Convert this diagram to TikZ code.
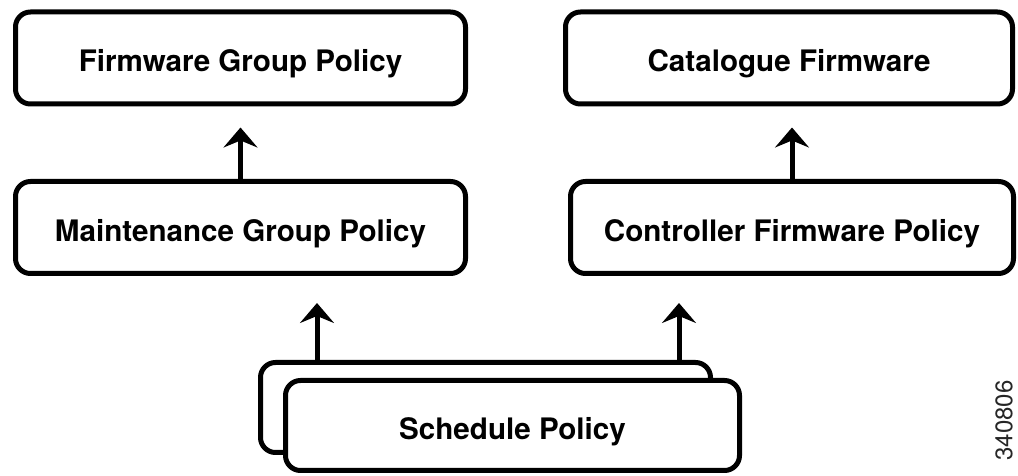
\documentclass[tikz,border=0pt]{standalone}
\usepackage{fontspec}
\setmainfont{TeX Gyre Heros}
\usepackage{tikz}
\usetikzlibrary{arrows.meta}
\tikzset{
  pnode/.style = {align=center, inner sep=0pt, text centered, text height=14pt, text depth=0pt, font=\fontsize{14.8}{17}\selectfont\bfseries},
  pbox/.style = {pnode, rectangle, rounded corners=7.5pt, draw=black, line width=2.5pt, fill=white, minimum width=225pt, minimum height=46pt},
  parrow/.style = {line width=2.5pt, -{Stealth[length=10pt, width=17pt, inset=3.5pt]}},
  pid/.style = {inner sep=0pt, rotate=90, font=\fontsize{12}{14}\selectfont, text=black!85},
}
\begin{document}
\begin{tikzpicture}[x=0.5pt, y=0.5pt]
\useasboundingbox (0,0) rectangle (1018,476);
%TODO: the figure number is cut off at the edge in the original, kept inside here
\node [pbox] (fgp) at (240.5,418) {Firmware Group Policy};
\node [pbox] (mgp) at (240.5,248.5) {Maintenance Group Policy};
\node [pbox, minimum width=223.5pt] (cat) at (789,418) {Catalogue Firmware};
\node [pbox, minimum width=221.5pt] (cfp) at (792,248.5) {Controller Firmware Policy};
\node [pbox, minimum height=45pt] (sb) at (485.5,68.5) {};
\node [pbox, minimum width=227pt, minimum height=45pt] (sf) at (512.5,50.5) {Schedule Policy};
\node [pid, anchor=north east] (fig) at (995,96) {340806};

\draw [parrow, shorten >=10.5pt] (mgp.north) -- (fgp.south);
\draw [parrow, shorten >=10.5pt] (cfp.north) -- (cfp.north |- cat.south);
\draw [parrow, shorten >=13.5pt] ([xshift=-84.25pt]sb.north) -- ([xshift=38.25pt]mgp.south);
\draw [parrow, shorten >=13.5pt] ([xshift=96.75pt]sb.north) -- ([xshift=-56.5pt]cfp.south);
\end{tikzpicture}
\end{document}
